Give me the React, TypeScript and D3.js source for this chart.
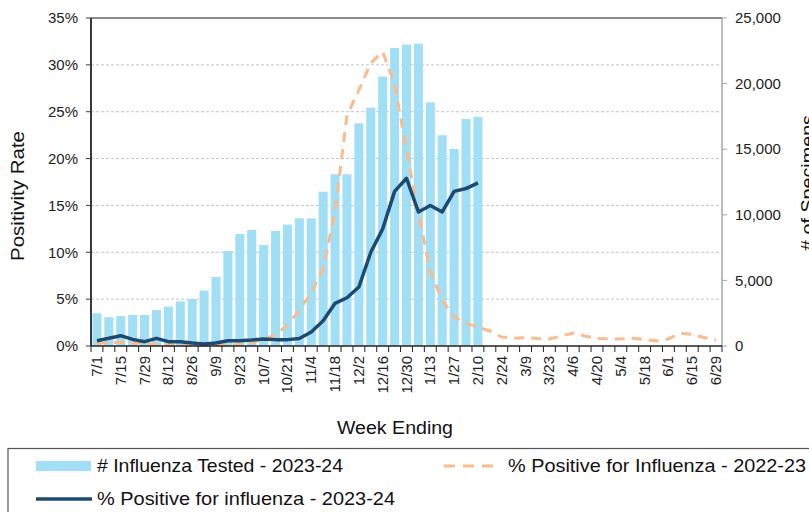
import React from "react";
import * as d3 from "d3";

// week ending labels, 7/1/2023 .. 6/29/2024
const weeks = [
  "7/1", "7/8", "7/15", "7/22", "7/29", "8/5", "8/12", "8/19", "8/26", "9/2",
  "9/9", "9/16", "9/23", "9/30", "10/7", "10/14", "10/21", "10/28", "11/4", "11/11",
  "11/18", "11/25", "12/2", "12/9", "12/16", "12/23", "12/30", "1/6", "1/13", "1/20",
  "1/27", "2/3", "2/10", "2/17", "2/24", "3/2", "3/9", "3/16", "3/23", "3/30",
  "4/6", "4/13", "4/20", "4/27", "5/4", "5/11", "5/18", "5/25", "6/1", "6/8",
  "6/15", "6/22", "6/29",
];

// # influenza tested 2023-24 (right axis)
const tested = [
  2490, 2190, 2290, 2360, 2360, 2740, 3000, 3400, 3580, 4220,
  5260, 7240, 8540, 8840, 7700, 8770, 9250, 9730, 9730, 11760,
  13090, 13090, 16970, 18170, 20530, 22710, 22970, 23040, 18570, 16060,
  15020, 17300, 17450,
];

// % positive 2023-24 (left axis)
const pos2324 = [
  0.57, 0.82, 1.1, 0.71, 0.46, 0.82, 0.46, 0.46, 0.32, 0.21,
  0.32, 0.57, 0.57, 0.64, 0.75, 0.68, 0.68, 0.8, 1.5, 2.7,
  4.55, 5.15, 6.3, 10.0, 12.5, 16.5, 17.9, 14.3, 15.0, 14.3,
  16.5, 16.8, 17.4,
];

// % positive 2022-23 (left axis)
const pos2223 = [
  0.29, 0.34, 0.39, 0.32, 0.27, 0.16, 0.1, 0.05, 0.05, 0.05,
  0.1, 0.1, 0.2, 0.32, 0.75, 1.17, 2.24, 3.84, 5.66, 8.3,
  14.4, 24.6, 27.3, 30.2, 31.4, 27.9, 20.9, 14.2, 7.9, 4.9,
  3.1, 2.45, 2.0, 1.6, 0.96, 0.82, 0.9, 0.8, 0.75, 1.07,
  1.39, 1.07, 0.8, 0.75, 0.75, 0.82, 0.69, 0.57, 0.75, 1.36,
  1.23, 0.9, 0.64,
];

const pctTicks = [0, 5, 10, 15, 20, 25, 30, 35];
const countTicks = [0, 5000, 10000, 15000, 20000, 25000];

const W = 809;
const H = 512;
const left = 91;
const right = 722;
const top = 18;
const bottom = 346;
const font = "'Liberation Sans', Arial, sans-serif";

export default function App() {
  const x = d3.scaleBand<string>().domain(weeks).range([left, right]).paddingInner(0.24).paddingOuter(0.12);
  const step = x.step();
  const cx = (w: string) => (x(w) as number) + x.bandwidth() / 2;
  const yL = d3.scaleLinear().domain([0, 35]).range([bottom, top]);
  const yR = d3.scaleLinear().domain([0, 25000]).range([bottom, top]);

  const line = d3
    .line<number>()
    .x((_, i) => cx(weeks[i]))
    .y((d) => yL(d));

  return (
    <svg width={W} height={H} style={{ position: "absolute", left: 0, top: 0 }} fontFamily={font}>
      <rect width={W} height={H} fill="#fff" />
      {/* grid */}
      {pctTicks.slice(1, -1).map((t) => (
        <line key={t} x1={left} x2={right} y1={yL(t)} y2={yL(t)} stroke="#c4c4c4" strokeDasharray="3,2" strokeWidth={1} />
      ))}
      {/* bars */}
      {tested.map((v, i) => (
        <rect key={i} x={x(weeks[i])} y={yR(v)} width={x.bandwidth()} height={bottom - yR(v)} fill="#a0dff6" />
      ))}
      <path d={line(pos2223) || ""} fill="none" stroke="#fbbb8c" strokeWidth={3} strokeDasharray="10,7" />
      <path d={line(pos2324) || ""} fill="none" stroke="#1d4a70" strokeWidth={3.5} strokeLinejoin="round" />

      {/* frame */}
      <line x1={left} x2={right} y1={top} y2={top} stroke="#8a8a8a" strokeWidth={2} />
      <line x1={right} x2={right} y1={top} y2={bottom} stroke="#a6a6a6" strokeWidth={1.5} />
      <line x1={left} x2={left} y1={top} y2={bottom} stroke="#3a3a3a" strokeWidth={2} />
      <line x1={left} x2={right} y1={bottom} y2={bottom} stroke="#222" strokeWidth={1.5} />

      {/* left axis */}
      {pctTicks.map((t) => (
        <g key={t}>
          <line x1={left - 5} x2={left} y1={yL(t)} y2={yL(t)} stroke="#3a3a3a" />
          <text x={78} y={yL(t)} dy="0.35em" textAnchor="end" fontSize={15} fill="#222">
            {t}%
          </text>
        </g>
      ))}
      {/* right axis */}
      {countTicks.map((t) => (
        <g key={t}>
          <line x1={right} x2={right + 5} y1={yR(t)} y2={yR(t)} stroke="#a6a6a6" />
          <text x={735} y={yR(t)} dy="0.35em" textAnchor="start" fontSize={15} fill="#222">
            {d3.format(",")(t)}
          </text>
        </g>
      ))}
      {/* bottom axis */}
      {d3.range(weeks.length + 1).map((i) => (
        <line key={i} x1={left + i * step} x2={left + i * step} y1={bottom} y2={bottom + 6} stroke="#222" />
      ))}
      {weeks.map((w, i) =>
        i % 2 === 0 ? (
          <text key={w} transform={`translate(${cx(w) + 5},356) rotate(-90)`} textAnchor="end" fontSize={15} fill="#222">
            {w}
          </text>
        ) : null
      )}

      {/* titles */}
      <text
        transform="translate(24,196) rotate(-90)"
        textAnchor="middle"
        fontSize={18}
        fill="#111"
        textLength={130}
        lengthAdjust="spacingAndGlyphs"
      >
        Positivity Rate
      </text>
      <text
        transform="translate(814,183) rotate(-90)"
        textAnchor="middle"
        fontSize={18}
        fill="#111"
        textLength={136}
        lengthAdjust="spacingAndGlyphs"
      >
        # of Specimens
      </text>
      <text x={395} y={434} textAnchor="middle" fontSize={18} fill="#111" textLength={116} lengthAdjust="spacingAndGlyphs">
        Week Ending
      </text>

      {/* legend */}
      <rect x={8} y={448.5} width={830} height={90} fill="none" stroke="#555" strokeWidth={1.2} />
      <rect x={36} y={461} width={55} height={10} fill="#a0dff6" />
      <text x={97} y={472} fontSize={18.5} fill="#111" textLength={246} lengthAdjust="spacingAndGlyphs">
        # Influenza Tested - 2023-24
      </text>
      <line x1={444} x2={500} y1={466} y2={466} stroke="#fbbb8c" strokeWidth={3} strokeDasharray="11,8" />
      <text x={508} y={472} fontSize={18.5} fill="#111" textLength={298} lengthAdjust="spacingAndGlyphs">
        % Positive for Influenza - 2022-23
      </text>
      <line x1={36} x2={92} y1={499} y2={499} stroke="#1d4a70" strokeWidth={3.5} />
      <text x={97} y={505} fontSize={18.5} fill="#111" textLength={298} lengthAdjust="spacingAndGlyphs">
        % Positive for influenza - 2023-24
      </text>
    </svg>
  );
}
